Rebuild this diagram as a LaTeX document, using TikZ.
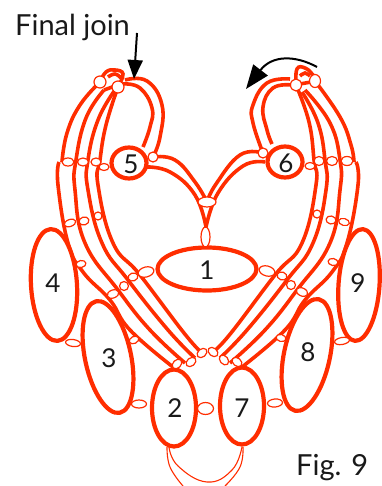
\documentclass[tikz,border=0pt]{standalone}
\usepackage{fontspec}
\setmainfont{Lato}
\usetikzlibrary{arrows.meta,backgrounds,shapes.geometric}
\definecolor{tatred}{HTML}{FF2D00}
\tikzset{
  ring/.style={ellipse,draw=tatred,fill=white,line width=4.2pt,inner sep=0pt,outer sep=0pt},
  picot/.style={ellipse,draw=tatred,fill=white,line width=1.2pt,inner sep=0pt,outer sep=0pt},
  thread/.style={draw=tatred,line width=3.6pt,smooth,tension=0.75},
  fine/.style={draw=tatred,line width=1.1pt,smooth,tension=0.75},
  num/.style={font=\fontsize{26pt}{28pt}\selectfont,text=black!90,inner sep=0pt},
  caption/.style={font=\fontsize{29pt}{32pt}\selectfont,text=black!90,inner sep=0pt},
}
\newcommand{\picotat}[6]{\node[picot,minimum width=#4pt,minimum height=#5pt,rotate=#6] (#1) at (#2,#3) {};}
\begin{document}
\begin{tikzpicture}[x=1pt,y=-1pt,line cap=round,line join=round]
  \path[use as bounding box] (0,0) rectangle (381,486);   % canvas 381x486 px, y runs down
  % ---- rings ----
  \node[ring,minimum width=99pt,minimum height=43pt]             (ringA) at (207,269) {};
  \node[ring,minimum width=44pt,minimum height=77pt]             (ringB) at (174,408) {};
  \node[ring,minimum width=46pt,minimum height=114pt,rotate=12]  (ringC) at (108,357) {};
  \node[ring,minimum width=46pt,minimum height=112pt,rotate=3.5] (ringD) at (54,285) {};
  \node[ring,minimum width=35pt,minimum height=31pt]             (ringE) at (129,163) {};
  \node[ring,minimum width=35pt,minimum height=31pt]             (ringF) at (285,162) {};
  \node[ring,minimum width=44pt,minimum height=77pt]             (ringG) at (242,406) {};
  \node[ring,minimum width=46pt,minimum height=114pt,rotate=-12] (ringH) at (307,355) {};
  \node[ring,minimum width=41pt,minimum height=112pt,rotate=-4]  (ringI) at (359,285) {};
  % ---- picots: name, x, y, width, height, rotation ----
  % top joins
  \picotat{topLa}{100}{82}{12}{12}{0}
  \picotat{topLb}{118}{87}{12}{12}{0}
  \picotat{topRa}{296}{85}{11}{12}{0}
  \picotat{topRb}{315}{81}{11}{13}{0}
  % row beside rings 5 and 6
  \picotat{rowLa}{68}{162}{12}{8}{0}
  \picotat{rowLb}{83}{162}{11}{8}{0}
  \picotat{rowLc}{96}{162}{10}{8}{0}
  \picotat{rowLd}{104}{167}{10}{7}{0}
  \picotat{rowRa}{347}{161}{12}{9}{0}
  \picotat{rowRb}{332}{161}{11}{9}{0}
  \picotat{rowRc}{319}{161}{10}{9}{0}
  \picotat{rowRd}{310}{166}{10}{7}{0}
  % second row
  \picotat{midLa}{70}{223}{12}{7}{20}
  \picotat{midLb}{84}{221}{10}{8}{15}
  \picotat{midLc}{98}{216}{8}{8}{0}
  \picotat{midRa}{344}{222}{11}{7}{-15}
  \picotat{midRb}{331}{220}{10}{8}{-10}
  \picotat{midRc}{317}{214}{8}{8}{0}
  % heart
  \picotat{heartL}{153}{157}{10}{10}{0}
  \picotat{heartR}{263}{153}{10}{10}{0}
  \picotat{heartA}{207}{202}{18}{10}{0}
  \picotat{heartB}{205.5}{237}{9}{20}{0}
  % round ring 1
  \picotat{sideLa}{81}{264}{10}{7}{10}
  \picotat{sideLb}{113}{294}{12}{8}{20}
  \picotat{sideLc}{124}{286}{9}{9}{0}
  \picotat{sideLd}{133}{277}{10}{8}{20}
  \picotat{sideLe}{146}{272}{16}{10}{15}
  \picotat{sideRa}{333}{262}{10}{7}{-10}
  \picotat{sideRb}{302}{292}{12}{8}{-25}
  \picotat{sideRc}{291}{285}{9}{9}{0}
  \picotat{sideRd}{282}{276}{10}{8}{-20}
  \picotat{sideRe}{267}{271}{16}{10}{-15}
  % between the rings
  \picotat{gapA}{73}{343}{15}{7}{-8}
  \picotat{gapB}{134}{340}{10}{7}{25}
  \picotat{gapC}{139}{404}{15}{8}{0}
  \picotat{gapD}{205.5}{408.5}{16}{12}{0}
  \picotat{gapE}{275}{403}{15}{8}{5}
  \picotat{gapF}{281}{338}{10}{7}{-15}
  \picotat{gapG}{342}{341}{15}{7}{10}
  % bottom joins
  \picotat{botLa}{177}{364}{11}{8}{45}
  \picotat{botLb}{191}{362}{11}{8}{40}
  \picotat{botLc}{202}{353}{11}{8}{40}
  \picotat{botRa}{213}{352}{11}{8}{-40}
  \picotat{botRb}{224}{360}{11}{8}{-50}
  \picotat{botRc}{237}{362}{11}{8}{-40}
  % ---- threads, all under the rings and picots ----
  \begin{scope}[on background layer]
    % left strands, outer to inner
    \draw[thread] plot coordinates {(topLa.center) (80,105) (67,133) (62,162)};
    \draw[thread] plot coordinates {(59,162) (58,185) (68,243) (83,272) (110,300) (130,330) (173,367)};
    \draw[thread] plot coordinates {(104,90) (86,118) (76,160) (75,190) (85,243) (118,290) (150,330) (185,363)};
    \draw[thread] plot coordinates {(115,90) (98,120) (88,160) (88,190) (102,243) (128,280) (168,330) (195,358)};
    \draw[thread] plot coordinates {(topLb.center) (106,125) (100,160) (98,185) (113,243) (140,275) (184,333) (botLc.center)};
    % right strands, outer to inner
    \draw[thread] plot coordinates {(topRb.center) (340,117) (351,145) (354,162)};
    \draw[thread] plot coordinates {(356,162) (358,185) (347,243) (332,272) (305,300) (285,330) (242,367)};
    \draw[thread] plot coordinates {(305,90) (330,123) (340,160) (340,190) (330,243) (297,290) (265,330) (230,363)};
    \draw[thread] plot coordinates {(302,92) (318,123) (325,160) (326,190) (313,243) (287,280) (247,330) (220,358)};
    \draw[thread] plot coordinates {(topRa.center) (309,122) (314,160) (316,185) (302,243) (275,275) (231,333) (botRa.center)};
    % top arcs
    \draw[thread] plot coordinates {(topLa.center) (106,72) (115,70) (123,74) (topLb.center)};
    \draw[thread] plot coordinates {(108,77) (115,74) (121,78)};
    \draw[thread] plot coordinates {(104,90) (115,86)};
    \draw[thread] plot coordinates {(topRa.center) (297,69) (305,68) (313,75) (topRb.center)};
    \draw[thread] plot coordinates {(300,76) (305,73) (310,76)};
    \draw[thread] plot coordinates {(300,84) (311,82)};
    % loop to ring 5
    \draw[thread] plot coordinates {(125,80) (147,81) (162,105) (160,137) (heartL.center)};
    \draw[thread] plot coordinates {(123,84) (140,88) (152,108) (150,127) (143,147)};
    % loop to ring 6
    \draw[thread] plot coordinates {(290,79) (267,83) (253,105) (253,123) (heartR.center)};
    \draw[thread] plot coordinates {(292,85) (273,88) (263,107) (267,130) (272,144)};
    % heart
    \draw[thread] plot coordinates {(heartL.center) (175,160) (195,182) (heartA.center)};
    \draw[thread] plot coordinates {(145,167) (170,172) (195,195) (206,227)};
    \draw[thread] plot coordinates {(heartR.center) (240,155) (216,184) (heartA.center)};
    \draw[thread] plot coordinates {(265,162) (243,166) (218,193) (206,227)};
    % bottom loops
    \draw[fine] plot coordinates {(167,447) (170,467) (183,486)};
    \draw[fine] plot coordinates {(169,447) (178,466) (207,482) (232,470) (242,447)};
    \draw[fine] plot coordinates {(243,447) (240,467) (225,486)};
  \end{scope}
  % ---- numbers ----
  \node[num] (numA) at (207,270) {1};
  \node[num] (numB) at (175,408) {2};
  \node[num] (numC) at (109,358) {3};
  \node[num] (numD) at (53,283) {4};
  \node[num] (numE) at (131,164) {5};
  \node[num] (numF) at (286,163) {6};
  \node[num] (numG) at (242,408) {7};
  \node[num] (numH) at (308,352) {8};
  \node[num] (numI) at (358,283) {9};
  % ---- captions and arrows ----
  \node[caption,anchor=west] (final) at (15,27) {Final join};
  \node[caption,anchor=west] (figno) at (296,468) {Fig. 9};
  \coordinate (finalTail) at (137,33);
  \coordinate (finalTip) at (134,79);
  \coordinate (turnTail) at (317,67);
  \coordinate (turnTip) at (246,89);
  \draw[line width=2pt,line cap=butt,-{Triangle[length=19pt,width=15pt]}] (finalTail) -- (finalTip);
  \draw[line width=2pt,line cap=butt,-{Triangle[length=24pt,width=18pt]}] (turnTail) .. controls (295,55) and (272,55) .. (turnTip);
\end{tikzpicture}
\end{document}
